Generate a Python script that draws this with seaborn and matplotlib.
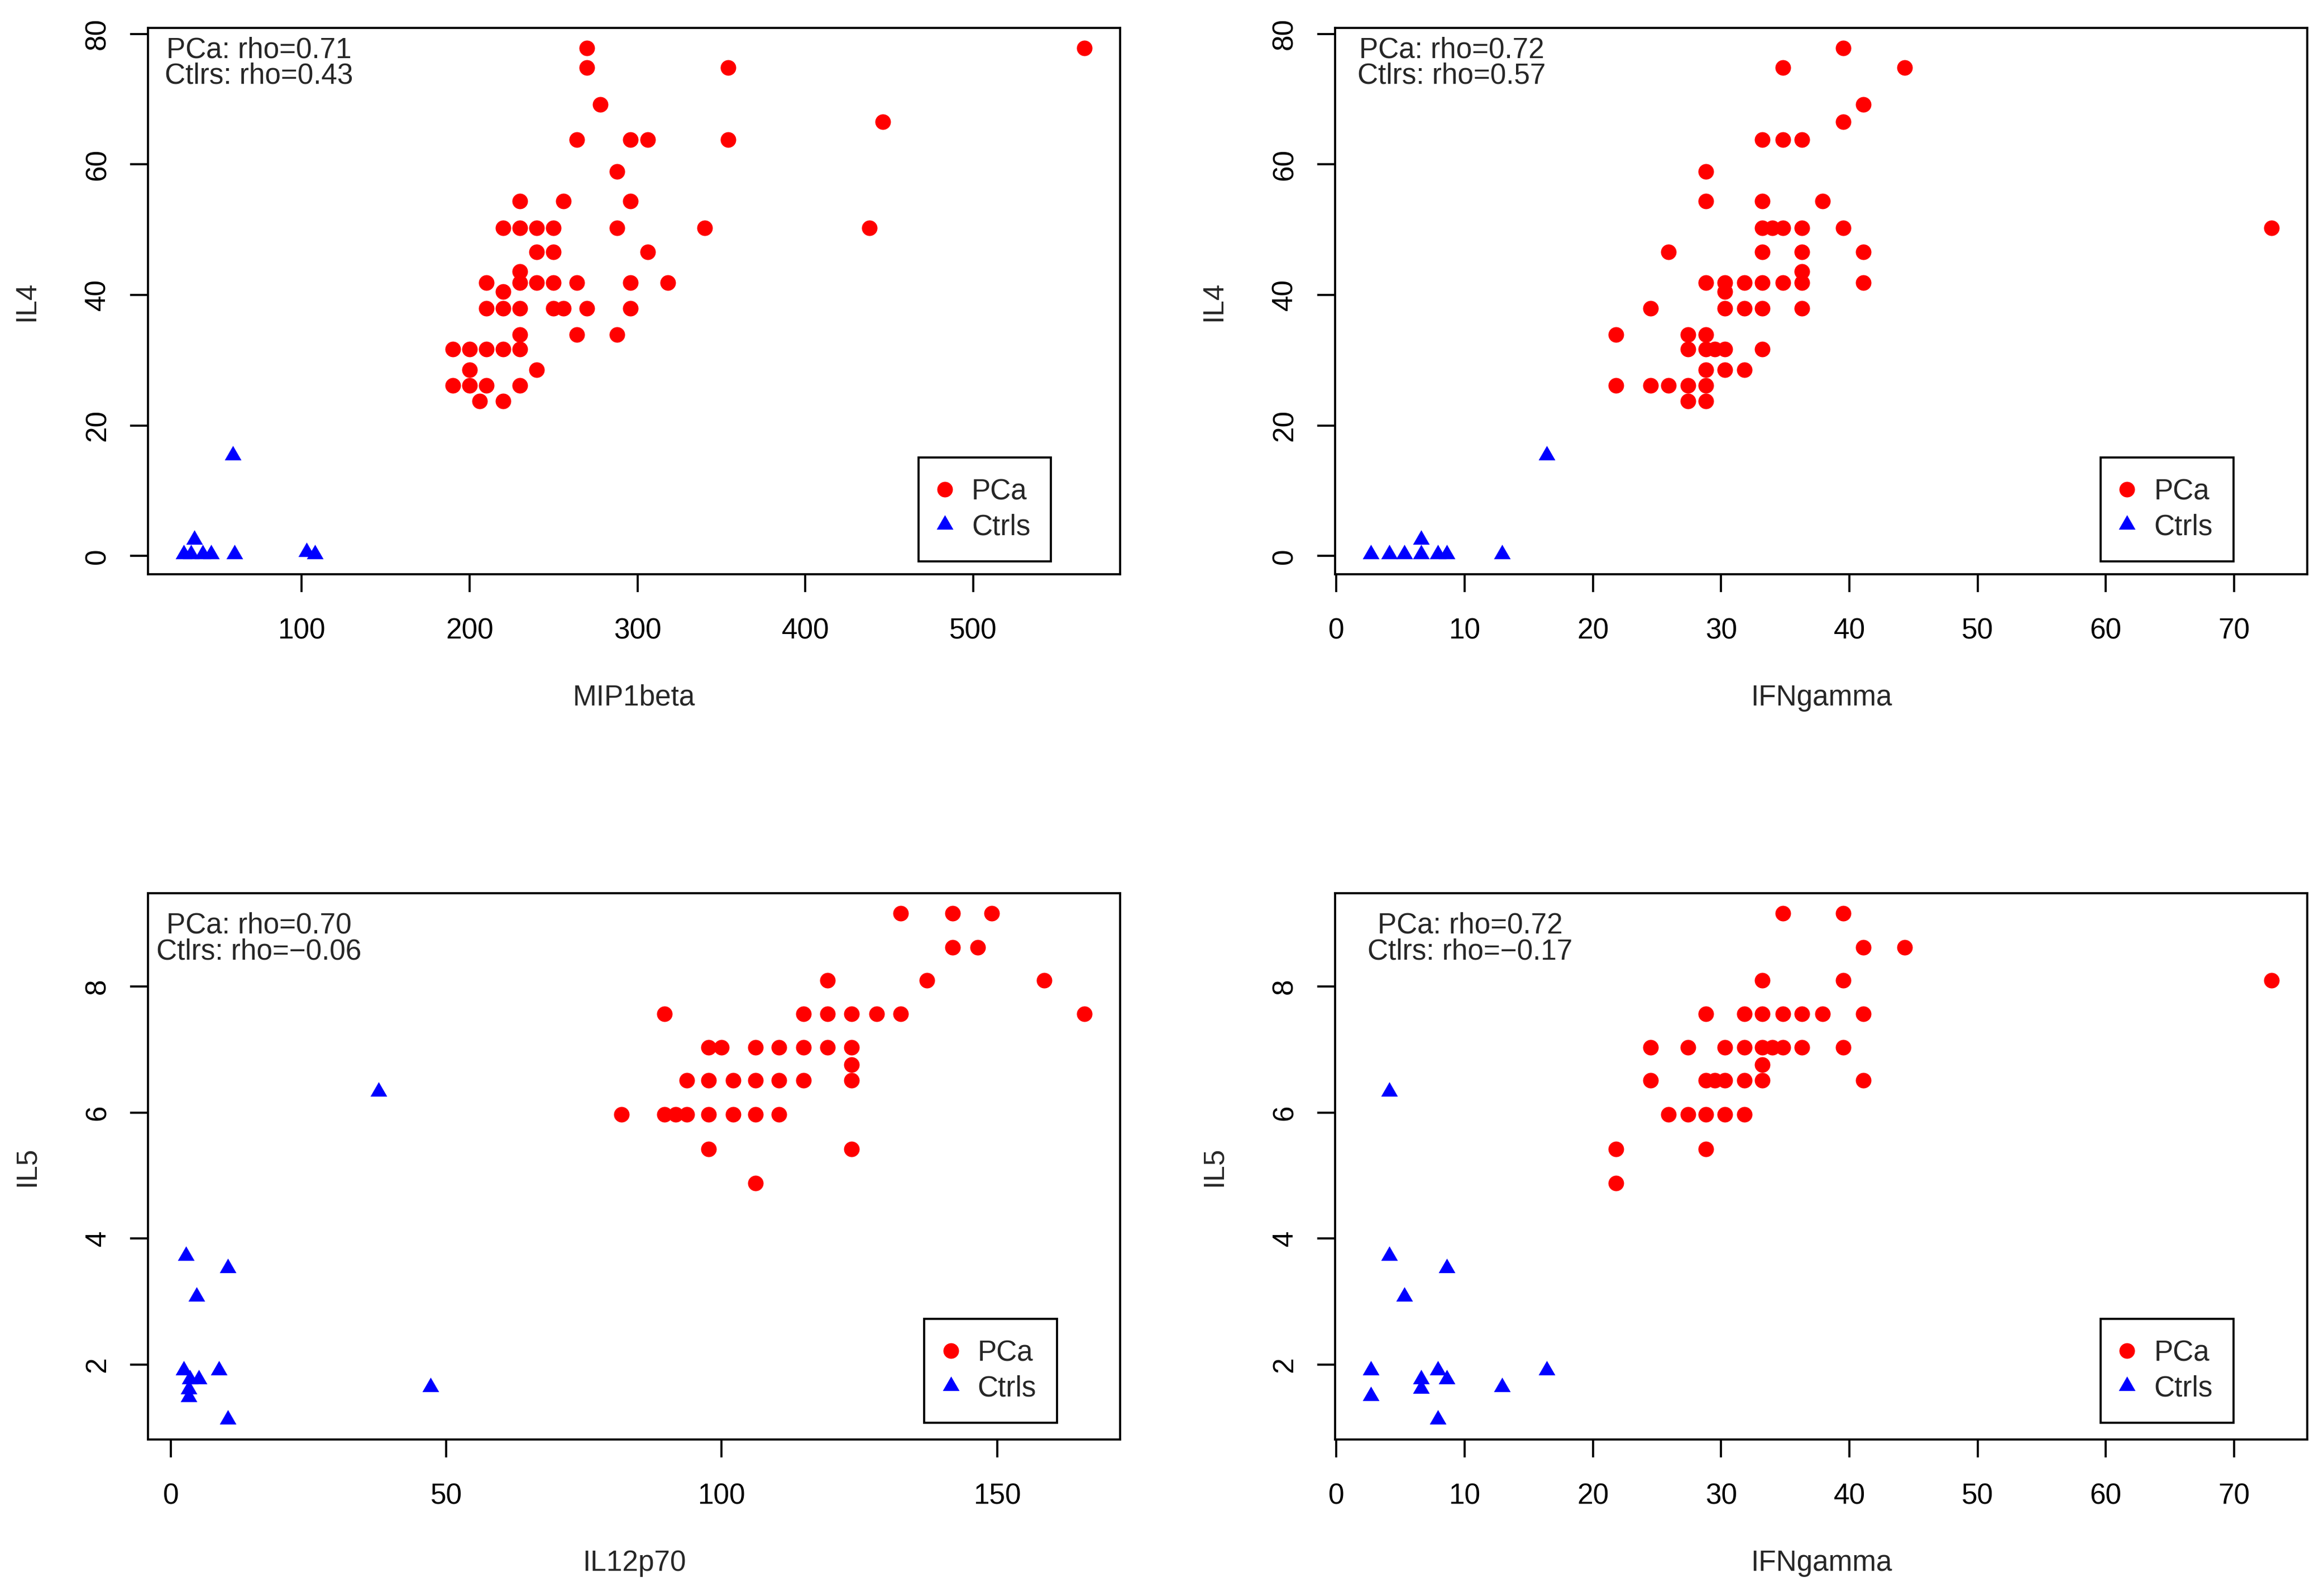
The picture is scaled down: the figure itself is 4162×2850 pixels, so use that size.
import pandas as pd
import seaborn as sns
import matplotlib.pyplot as plt
from matplotlib.lines import Line2D

# ---- values ----
# panel 1: MIP1beta vs IL4
mip_pca = [270, 566, 270, 354, 278, 446, 264, 296, 306, 354, 288, 230, 256, 296,
           220, 230, 240, 250, 288, 340, 438, 240, 250, 306, 230,
           210, 230, 240, 250, 264, 296, 318, 220,
           210, 220, 230, 250, 256, 270, 296, 230, 264, 288,
           190, 200, 210, 220, 230, 200, 240, 190, 200, 210, 230, 206, 220]
il4_pca_1 = [77.8, 77.8, 74.8, 74.8, 69.2, 66.5, 63.8, 63.8, 63.8, 63.8, 58.9, 54.4, 54.4, 54.4,
             50.3, 50.3, 50.3, 50.3, 50.3, 50.3, 50.3, 46.6, 46.6, 46.6, 43.6,
             41.9, 41.9, 41.9, 41.9, 41.9, 41.9, 41.9, 40.5,
             37.9, 37.9, 37.9, 37.9, 37.9, 37.9, 37.9, 33.9, 33.9, 33.9,
             31.7, 31.7, 31.7, 31.7, 31.7, 28.5, 28.5, 26.1, 26.1, 26.1, 26.1, 23.7, 23.7]
mip_ctrl = [30, 34, 36, 41, 46, 60, 59, 103, 108]
il4_ctrl_1 = [0.3, 0.3, 2.5, 0.3, 0.3, 0.3, 15.4, 0.6, 0.3]

# panel 2: IFNgamma vs IL4
ifn_pca_a = [39.5, 34.8, 44.3, 41.1, 39.5, 33.2, 34.8, 36.3, 28.8, 28.8, 33.2, 37.9,
             33.2, 34.0, 34.8, 36.3, 39.5, 72.9, 25.9, 33.2, 36.3, 41.1, 36.3,
             28.8, 30.3, 31.8, 33.2, 34.8, 36.3, 41.1, 30.3,
             24.5, 30.3, 31.8, 33.2, 36.3, 21.8, 27.4, 28.8,
             27.4, 28.8, 29.5, 30.3, 33.2, 28.8, 30.3, 31.8,
             21.8, 24.5, 25.9, 27.4, 28.8, 27.4, 28.8]
il4_pca_2 = [77.8, 74.8, 74.8, 69.2, 66.5, 63.8, 63.8, 63.8, 58.9, 54.4, 54.4, 54.4,
             50.3, 50.3, 50.3, 50.3, 50.3, 50.3, 46.6, 46.6, 46.6, 46.6, 43.6,
             41.9, 41.9, 41.9, 41.9, 41.9, 41.9, 41.9, 40.5,
             37.9, 37.9, 37.9, 37.9, 37.9, 33.9, 33.9, 33.9,
             31.7, 31.7, 31.7, 31.7, 31.7, 28.5, 28.5, 28.5,
             26.1, 26.1, 26.1, 26.1, 26.1, 23.7, 23.7]
ifn_ctrl_a = [2.7, 4.1, 5.3, 6.6, 6.6, 7.9, 8.6, 12.9, 16.4]
il4_ctrl_2 = [0.3, 0.3, 0.3, 2.5, 0.3, 0.3, 0.3, 0.3, 15.4]

# panel 3: IL12p70 vs IL5
il12_pca = [132.5, 141.9, 149.0, 141.9, 146.5, 119.2, 137.3, 158.6,
            89.6, 114.9, 119.2, 123.6, 128.1, 132.5, 165.8,
            97.6, 100.0, 106.1, 110.4, 114.9, 119.2, 123.6, 123.6,
            93.7, 97.6, 102.1, 106.1, 110.4, 114.9, 123.6,
            81.8, 89.6, 91.7, 93.7, 97.6, 102.1, 106.1, 110.4, 97.6, 123.6, 106.1]
il5_pca_3 = [9.16, 9.16, 9.16, 8.62, 8.62, 8.10, 8.10, 8.10,
             7.57, 7.57, 7.57, 7.57, 7.57, 7.57, 7.57,
             7.03, 7.03, 7.03, 7.03, 7.03, 7.03, 7.03, 6.76,
             6.51, 6.51, 6.51, 6.51, 6.51, 6.51, 6.51,
             5.97, 5.97, 5.97, 5.97, 5.97, 5.97, 5.97, 5.97, 5.42, 5.42, 4.88]
il12_ctrl = [2.8, 10.4, 4.7, 37.7, 2.4, 8.7, 3.5, 5.1, 3.3, 3.3, 47.2, 10.4]
il5_ctrl_3 = [3.73, 3.53, 3.08, 6.33, 1.91, 1.91, 1.77, 1.77, 1.61, 1.48, 1.64, 1.13]

# panel 4: IFNgamma vs IL5
ifn_pca_b = [34.8, 39.5, 41.1, 44.3, 33.2, 39.5, 72.9,
             28.8, 31.8, 33.2, 34.8, 36.3, 37.9, 41.1,
             24.5, 27.4, 30.3, 31.8, 33.2, 34.0, 34.8, 36.3, 39.5, 33.2,
             24.5, 28.8, 29.5, 30.3, 31.8, 33.2, 41.1,
             25.9, 27.4, 28.8, 30.3, 31.8, 21.8, 28.8, 21.8]
il5_pca_4 = [9.16, 9.16, 8.62, 8.62, 8.10, 8.10, 8.10,
             7.57, 7.57, 7.57, 7.57, 7.57, 7.57, 7.57,
             7.03, 7.03, 7.03, 7.03, 7.03, 7.03, 7.03, 7.03, 7.03, 6.76,
             6.51, 6.51, 6.51, 6.51, 6.51, 6.51, 6.51,
             5.97, 5.97, 5.97, 5.97, 5.97, 5.42, 5.42, 4.88]
ifn_ctrl_b = [4.1, 4.1, 8.6, 5.3, 2.7, 7.9, 16.4, 6.6, 8.6, 6.6, 12.9, 2.7, 7.9]
il5_ctrl_4 = [6.33, 3.73, 3.53, 3.08, 1.91, 1.91, 1.91, 1.77, 1.77, 1.62, 1.64, 1.50, 1.13]

rho_labels = [["PCa: rho=0.71", "Ctlrs: rho=0.43"],
              ["PCa: rho=0.72", "Ctlrs: rho=0.57"],
              ["PCa: rho=0.70", "Ctlrs: rho=\u22120.06"],
              ["PCa: rho=0.72", "Ctlrs: rho=\u22120.17"]]
xlabels = ["MIP1beta", "IFNgamma", "IL12p70", "IFNgamma"]
ylabels = ["IL4", "IL4", "IL5", "IL5"]
xticks = [[100, 200, 300, 400, 500], list(range(0, 80, 10)), [0, 50, 100, 150], list(range(0, 80, 10))]
yticks = [[0, 20, 40, 60, 80], [0, 20, 40, 60, 80], [2, 4, 6, 8], [2, 4, 6, 8]]
group_names = ["PCa", "Ctrls"]

# ---- style ----
sns.set_style("ticks")
plt.rcParams["font.family"] = ["Liberation Sans", "DejaVu Sans"]
FS = 12.3
LW = 0.9
TRI = [(0, 1.155), (-1, -0.577), (1, -0.577)]

W, H = 4162, 2850
fig = plt.figure(figsize=(W / 300, H / 300), dpi=300)
pw, ph = 1741, 978
corners = [(265, 50), (2391, 50), (265, 1599), (2391, 1599)]
text_x = [0.114, 0.120, 0.114, 0.139]
text_y = [(0.9448, 0.8978), (0.9448, 0.8978), (0.9274, 0.8793), (0.9274, 0.8793)]
leg_anchor = [(0.929, 0.0235), (0.924, 0.0235), (0.935, 0.0307), (0.924, 0.0307)]

data = [(mip_pca, il4_pca_1, mip_ctrl, il4_ctrl_1),
        (ifn_pca_a, il4_pca_2, ifn_ctrl_a, il4_ctrl_2),
        (il12_pca, il5_pca_3, il12_ctrl, il5_ctrl_3),
        (ifn_pca_b, il5_pca_4, ifn_ctrl_b, il5_ctrl_4)]

for i, (xp, yp, xc, yc) in enumerate(data):
    l, t = corners[i]
    ax = fig.add_axes([l / W, 1 - (t + ph) / H, pw / W, ph / H])
    pca = pd.DataFrame({"x": xp, "y": yp})
    ctrl = pd.DataFrame({"x": xc, "y": yc})
    sns.scatterplot(data=pca, x="x", y="y", ax=ax, color="#FF0000", marker="o",
                    s=45, linewidth=0, legend=False)
    sns.scatterplot(data=ctrl, x="x", y="y", ax=ax, color="#0000FF", marker=TRI,
                    s=69, linewidth=0, legend=False)
    ax.margins(0.04)
    ax.set_xticks(xticks[i])
    ax.set_yticks(yticks[i])
    for sp in ax.spines.values():
        sp.set_linewidth(LW)
        sp.set_color("black")
    ax.tick_params(direction="out", length=7.7, width=LW, labelsize=FS, colors="black")
    ax.tick_params(axis="x", pad=11)
    ax.tick_params(axis="y", pad=8, labelrotation=90)
    for lab in ax.get_yticklabels():
        lab.set_va("center")

    ax.set_xlabel(xlabels[i], fontsize=FS)
    ax.set_ylabel(ylabels[i], fontsize=FS)
    ax.xaxis.set_label_coords(0.5, -0.226)
    ax.xaxis.label.set_va("center")
    ax.yaxis.set_label_coords(-0.1246, 0.5)
    ax.yaxis.label.set_va("center")

    # correlation notes, top left
    for line, yy in zip(rho_labels[i], text_y[i]):
        ax.text(text_x[i], yy, line, transform=ax.transAxes, ha="center",
                va="baseline", fontsize=FS)

    handles = [Line2D([], [], marker="o", color="#FF0000", linestyle="", markersize=6.7,
                      markeredgewidth=0),
               Line2D([], [], marker=TRI, color="#0000FF", linestyle="", markersize=8.3,
                      markeredgewidth=0)]
    leg = ax.legend(handles, group_names, loc="lower right", bbox_to_anchor=leg_anchor[i],
                    borderaxespad=0, fontsize=FS, fancybox=False, framealpha=1,
                    edgecolor="black", borderpad=0.72, handlelength=0.41,
                    handletextpad=0.73, labelspacing=0.27)
    leg.get_frame().set_linewidth(LW)

fig.savefig("out.png", dpi=300)
